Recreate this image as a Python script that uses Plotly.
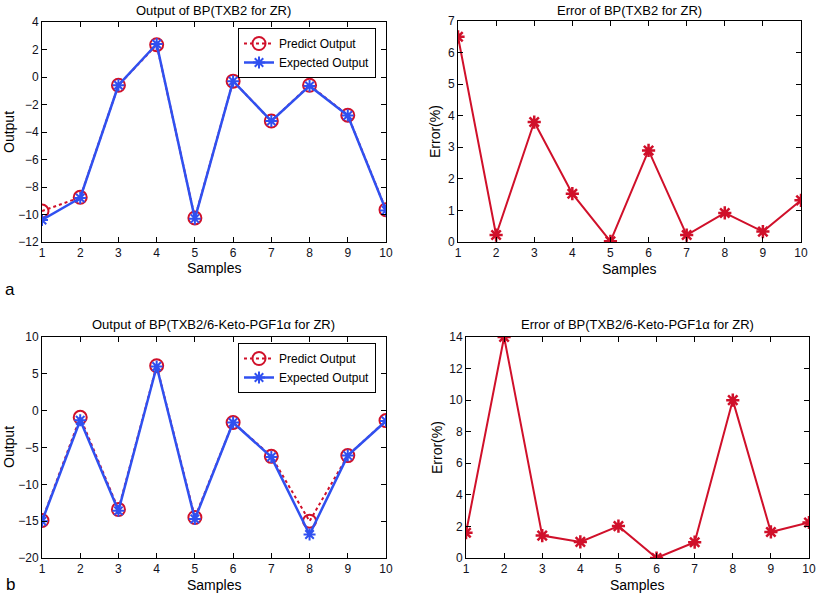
import plotly.graph_objects as go

samples = list(range(1, 11))

# Panel a: TXB2 for ZR
a_predict = [-9.75, -8.75, -0.6, 2.35, -10.25, -0.3, -3.2, -0.6, -2.78, -9.65]
a_expected = [-10.4, -8.8, -0.6, 2.4, -10.3, -0.3, -3.2, -0.65, -2.8, -9.7]
a_error = [6.5, 0.22, 3.8, 1.53, 0.02, 2.9, 0.22, 0.92, 0.33, 1.32]

# Panel b: TXB2/6-Keto-PGF1α for ZR
b_predict = [-14.9, -0.9, -13.4, 6.1, -14.5, -1.6, -6.2, -15.0, -6.1, -1.35]
b_expected = [-15.0, -1.3, -13.6, 6.0, -14.7, -1.6, -6.3, -16.8, -6.1, -1.4]
b_error = [1.6, 14.0, 1.42, 1.02, 2.02, 0.0, 1.0, 10.0, 1.65, 2.25]

W, H = 817, 596
RED = "#d0102a"
BLUE = "#3050f0"
FONT = "Liberation Sans, Arial, sans-serif"


def px_x(p):
    return p / W


def px_y(p):
    return 1 - p / H


panels = {
    "a_out": dict(x=(42, 386), y=(22, 242), yr=(-12, 4), dt=2),
    "a_err": dict(x=(458, 801), y=(21, 242), yr=(0, 7), dt=1),
    "b_out": dict(x=(42, 386), y=(337, 558), yr=(-20, 10), dt=5),
    "b_err": dict(x=(466, 809), y=(337, 558), yr=(0, 14), dt=2),
}

fig = go.Figure()
layout = dict(
    template="none",
    width=W, height=H, margin=dict(l=0, r=0, t=0, b=0, autoexpand=False),
    paper_bgcolor="white", plot_bgcolor="white",
    font=dict(family=FONT, color="black"),
    showlegend=True,
)

axis_common = dict(
    showline=True, linecolor="black", linewidth=1, mirror="ticks",
    ticks="inside", ticklen=5, tickcolor="black", showgrid=False, zeroline=False,
    automargin=False, ticklabeloverflow="allow",
    tickfont=dict(family=FONT, size=12, color="#101020"),
)

for i, (name, p) in enumerate(panels.items(), start=1):
    xa = "xaxis" if i == 1 else f"xaxis{i}"
    ya = "yaxis" if i == 1 else f"yaxis{i}"
    layout[xa] = dict(axis_common, domain=[px_x(p["x"][0]), px_x(p["x"][1])],
                      range=[1, 10], dtick=1, tick0=1, anchor=f"y{i}" if i > 1 else "y")
    layout[ya] = dict(axis_common, domain=[px_y(p["y"][1]), px_y(p["y"][0])],
                      range=list(p["yr"]), dtick=p["dt"], anchor=f"x{i}" if i > 1 else "x")


def add_output(xref, yref, pred, exp, legend):
    fig.add_trace(go.Scatter(
        x=samples, y=pred, mode="lines+markers", name="Predict Output",
        line=dict(color=RED, width=2, dash="dot"),
        marker=dict(symbol="circle-open", size=13, color=RED, line=dict(width=2)),
        xaxis=xref, yaxis=yref, legend=legend))
    fig.add_trace(go.Scatter(
        x=samples, y=exp, mode="lines+markers", name="Expected Output",
        line=dict(color=BLUE, width=2.5),
        marker=dict(symbol="asterisk-open", size=10, color=BLUE, line=dict(width=2, color=BLUE)),
        xaxis=xref, yaxis=yref, legend=legend))


def add_error(xref, yref, err):
    fig.add_trace(go.Scatter(
        x=samples, y=err, mode="lines+markers", showlegend=False,
        line=dict(color=RED, width=2),
        marker=dict(symbol="asterisk-open", size=11, color=RED, line=dict(width=2.5, color=RED)),
        xaxis=xref, yaxis=yref))


add_output("x", "y", a_predict, a_expected, "legend")
add_error("x2", "y2", a_error)
add_output("x3", "y3", b_predict, b_expected, "legend2")
add_error("x4", "y4", b_error)

leg_common = dict(
    xanchor="left", yanchor="top", bgcolor="white", bordercolor="black", borderwidth=1,
    font=dict(family=FONT, size=12, color="black"), tracegroupgap=0,
    itemwidth=30,
)
layout["legend"] = dict(leg_common, x=px_x(238), y=px_y(28))
layout["legend2"] = dict(leg_common, x=px_x(238), y=px_y(343))

annotations = []


def ann(text, x, y, size, angle=0):
    annotations.append(dict(text=text, x=px_x(x), y=px_y(y), xref="paper", yref="paper",
                            showarrow=False, textangle=angle, xanchor="center", yanchor="middle",
                            font=dict(family=FONT, size=size, color="black")))


ann("Output of BP(TXB2 for ZR)", 214, 10, 13)
ann("Error of BP(TXB2 for ZR)", 629, 10, 13)
ann("Output of BP(TXB2/6-Keto-PGF1α for ZR)", 214, 324, 13)
ann("Error of BP(TXB2/6-Keto-PGF1α for ZR)", 637, 324, 13)
ann("Samples", 214, 268, 14)
ann("Samples", 629, 269, 14)
ann("Samples", 214, 585, 14)
ann("Samples", 637, 585, 14)
ann("Output", 9, 132, 14, -90)
ann("Error(%)", 435, 132, 14, -90)
ann("Output", 9, 447, 14, -90)
ann("Error(%)", 437, 447, 14, -90)
ann("a", 10, 289, 17)
ann("b", 10, 584, 17)
layout["annotations"] = annotations

fig.update_layout(**layout)
fig.write_html(
    "out.html",
    config={"displayModeBar": False},
    post_script="document.body.style.margin='0';document.body.style.overflow='hidden';",
)
